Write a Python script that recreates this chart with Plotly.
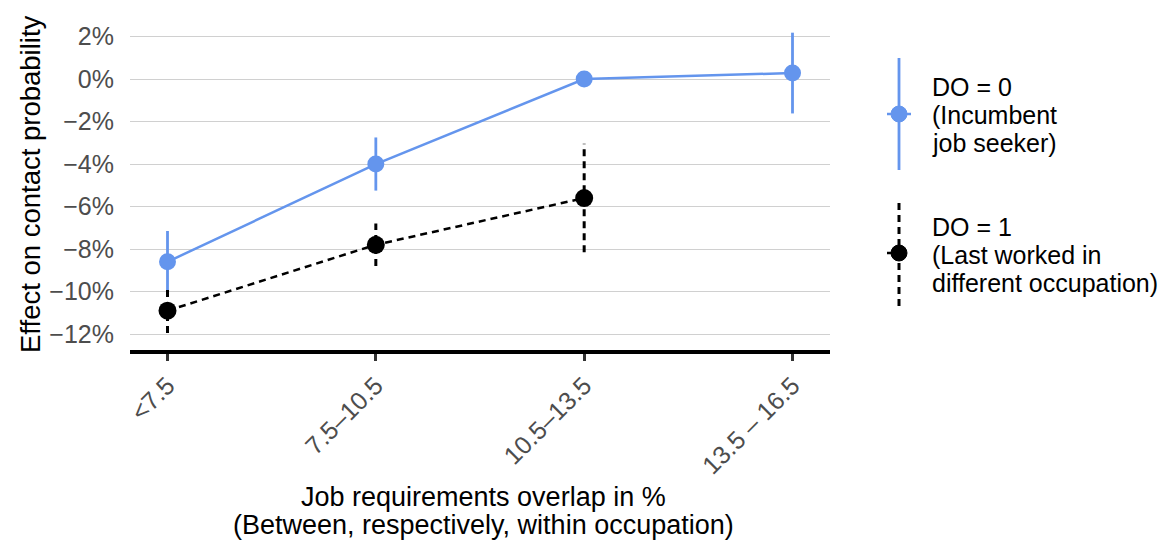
import plotly.graph_objects as go

categories = ["<7.5", "7.5–10.5", "10.5–13.5", "13.5 – 16.5"]
do0_est = [-8.6, -4.0, 0.0, 0.28]
do0_err = [1.45, 1.25, 0.0, 1.9]
do1_cats = ["<7.5", "7.5–10.5", "10.5–13.5"]
do1_est = [-10.9, -7.8, -5.6]
do1_err = [1.05, 1.0, 2.55]
y_ticks = [2, 0, -2, -4, -6, -8, -10, -12]
y_ticklabels = ["2%", "0%", "−2%", "−4%", "−6%", "−8%", "−10%", "−12%"]
legend0_lines = ["DO = 0", "(Incumbent", "job seeker)"]
legend1_lines = ["DO = 1", "(Last worked in", "different occupation)"]
x_title_lines = ["Job requirements overlap in %", "(Between, respectively, within occupation)"]
y_title = "Effect on contact probability"

BLUE = "#6495ED"
BLACK = "#000000"
FONT = "Liberation Sans, Arial, sans-serif"
DASH = "7px,5px"

W, H = 1168, 540
L, R, T, B = 130, 338, 28, 190
PW, PH = W - L - R, H - T - B

def px(x):
    return (x - L) / PW

def py(y):
    return (H - B - y) / PH

idx = {c: i for i, c in enumerate(categories)}

def err_segments(cats, est, err):
    xs, ys = [], []
    for c, e, d in zip(cats, est, err):
        if d <= 0:
            continue
        xs += [idx[c], idx[c], None]
        ys += [e - d, e + d, None]
    return xs, ys

fig = go.Figure()

bx, by = err_segments(categories, do0_est, do0_err)
fig.add_trace(go.Scatter(x=bx, y=by, mode="lines", line=dict(color=BLUE, width=2.8),
                         showlegend=False, hoverinfo="skip"))
fig.add_trace(go.Scatter(x=[idx[c] for c in categories], y=do0_est, mode="lines+markers",
                         line=dict(color=BLUE, width=2.5), marker=dict(color=BLUE, size=17),
                         showlegend=False))

kx, ky = err_segments(do1_cats, do1_est, do1_err)
fig.add_trace(go.Scatter(x=kx, y=ky, mode="lines", line=dict(color=BLACK, width=3, dash=DASH),
                         showlegend=False, hoverinfo="skip"))
fig.add_trace(go.Scatter(x=[idx[c] for c in do1_cats], y=do1_est, mode="lines+markers",
                         line=dict(color=BLACK, width=2.5, dash=DASH), marker=dict(color=BLACK, size=18),
                         showlegend=False))

# custom legend (ggplot-style pointrange glyphs)
shapes = [
    dict(type="line", xref="paper", yref="paper", x0=px(899), x1=px(899), y0=py(58), y1=py(170),
         line=dict(color=BLUE, width=2.8)),
    dict(type="line", xref="paper", yref="paper", x0=px(887), x1=px(911), y0=py(114), y1=py(114),
         line=dict(color=BLUE, width=2.5)),
    dict(type="circle", xref="paper", yref="paper", x0=px(891), x1=px(907), y0=py(106), y1=py(122),
         fillcolor=BLUE, line=dict(color=BLUE, width=1)),
    dict(type="line", xref="paper", yref="paper", x0=px(899), x1=px(899), y0=py(203), y1=py(311),
         line=dict(color=BLACK, width=3, dash=DASH)),
    dict(type="line", xref="paper", yref="paper", x0=px(887), x1=px(911), y0=py(253), y1=py(253),
         line=dict(color=BLACK, width=2.5, dash=DASH)),
    dict(type="circle", xref="paper", yref="paper", x0=px(891), x1=px(907), y0=py(245), y1=py(261),
         fillcolor=BLACK, line=dict(color=BLACK, width=1)),
]

annotations = []
for lines, y0 in ((legend0_lines, 87), (legend1_lines, 227)):
    for k, t in enumerate(lines):
        annotations.append(dict(xref="paper", yref="paper", x=px(930), y=py(y0 + 28 * k),
                                xanchor="left", yanchor="middle", text=t, showarrow=False,
                                font=dict(family=FONT, size=25, color="black")))
for k, t in enumerate(x_title_lines):
    annotations.append(dict(xref="paper", yref="paper", x=px(483), y=py(497 + 28 * k),
                            xanchor="center", yanchor="middle", text=t, showarrow=False,
                            font=dict(family=FONT, size=27, color="black")))
annotations.append(dict(xref="paper", yref="paper", x=px(30), y=py(184), textangle=-90,
                        xanchor="center", yanchor="middle", text=y_title, showarrow=False,
                        font=dict(family=FONT, size=27.5, color="black")))

fig.update_layout(
    width=W, height=H,
    margin=dict(l=L, r=R, t=T, b=B),
    paper_bgcolor="white", plot_bgcolor="white",
    font=dict(family=FONT, size=24, color="#4d4d4d"),
    shapes=shapes, annotations=annotations,
    xaxis=dict(
        tickmode="array", tickvals=list(range(len(categories))), ticktext=categories,
        range=[-0.18, 3.18], tickangle=-45, showgrid=False, zeroline=False,
        showline=True, linecolor="black", linewidth=4,
        ticks="outside", ticklen=7, tickwidth=3, tickcolor="#333333",
        tickfont=dict(family=FONT, size=25, color="#4d4d4d"),
    ),
    yaxis=dict(
        tickmode="array", tickvals=y_ticks, ticktext=y_ticklabels,
        range=[-12.75, 2.4], showgrid=True, gridcolor="#d0d0d0", gridwidth=1,
        zeroline=False, showline=False, ticks="", ticklabelstandoff=15,
        tickfont=dict(family=FONT, size=25, color="#4d4d4d"),
    ),
)

fig.write_html("out.html")
